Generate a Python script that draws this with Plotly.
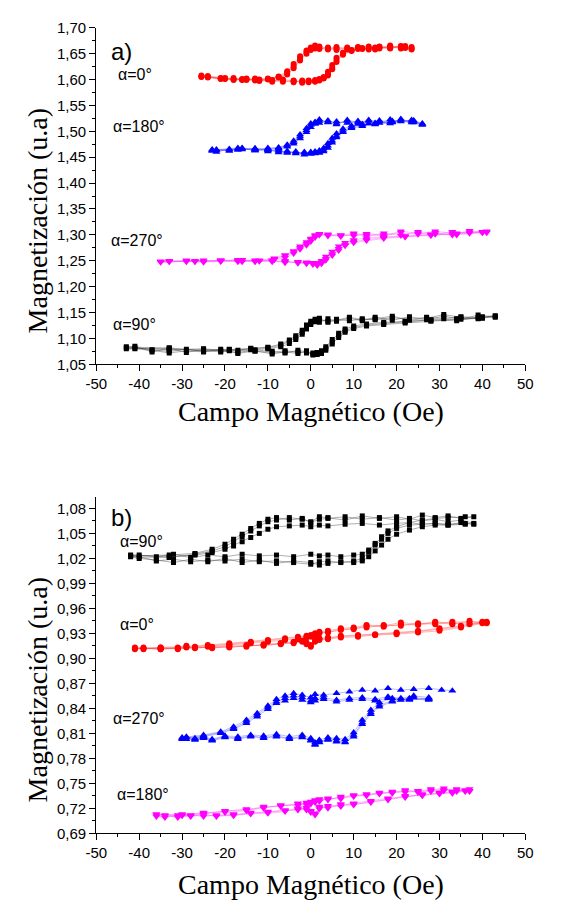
import plotly.graph_objects as go

# ---------------- panel a) ----------------
# alpha = 0 deg (red circles)
a0_Hd = [23.5, 21, 18.5, 16, 13.5, 11, 8.5, 6, 4, 2, 1, 0, -1, -2.5, -4, -5.5, -7.5, -10, -13, -16, -20, -25.5]
a0_Ha = [-24, -21, -18, -15, -12, -9, -6.5, -4, -2, -0.5, 1, 2, 3, 4, 5, 6, 7.5, 9.5, 12, 15, 18.5, 22]
a0_Md1 = [1.660,1.664,1.662,1.663,1.661,1.659,1.662,1.660,1.658,1.661,1.663,1.657,1.650,1.637,1.622,1.610,1.604,1.602,1.600,1.601,1.603,1.608]
a0_Ma1 = [1.607,1.602,1.600,1.601,1.599,1.598,1.600,1.597,1.596,1.598,1.597,1.600,1.605,1.615,1.628,1.642,1.652,1.657,1.660,1.662,1.661,1.663]
a0_Md2 = [1.663,1.660,1.666,1.660,1.664,1.662,1.658,1.663,1.660,1.664,1.660,1.660,1.653,1.641,1.626,1.613,1.605,1.600,1.602,1.599,1.601,1.606]
a0_Ma2 = [1.604,1.601,1.603,1.599,1.600,1.596,1.598,1.595,1.598,1.595,1.599,1.598,1.602,1.611,1.623,1.638,1.650,1.656,1.659,1.660,1.664,1.661]
a0_Md3 = [1.658,1.665,1.660,1.664,1.658,1.663,1.660,1.657,1.662,1.659,1.666,1.662,1.656,1.645,1.630,1.616,1.606,1.601,1.598,1.600,1.602,1.605]
a0_Ma3 = [1.605,1.603,1.599,1.602,1.597,1.599,1.596,1.598,1.594,1.597,1.596,1.601,1.603,1.608,1.620,1.634,1.648,1.655,1.661,1.658,1.662,1.665]

# alpha = 180 deg (blue up-triangles)
a180_Hd = [26, 23.5, 21, 18.5, 16, 13.5, 11, 8.5, 6, 4, 2, 1, 0, -1, -2.5, -4, -5.5, -7.5, -10, -13, -17, -23]
a180_Ha = [-22, -19, -16, -13, -10, -7.5, -5.5, -3.5, -1.5, 0, 1, 2, 3, 4, 5, 6, 7.5, 9.5, 12, 15, 19, 24]
a180_Md1 = [1.512,1.520,1.522,1.518,1.521,1.515,1.520,1.516,1.519,1.517,1.520,1.514,1.508,1.498,1.486,1.476,1.470,1.467,1.466,1.465,1.466,1.462]
a180_Ma1 = [1.460,1.466,1.465,1.467,1.464,1.462,1.460,1.459,1.458,1.460,1.461,1.463,1.468,1.477,1.487,1.496,1.505,1.511,1.514,1.516,1.518,1.521]
a180_Md2 = [1.515,1.517,1.524,1.515,1.519,1.522,1.514,1.520,1.515,1.521,1.516,1.518,1.512,1.502,1.490,1.479,1.472,1.468,1.464,1.467,1.464,1.465]
a180_Ma2 = [1.463,1.464,1.467,1.463,1.466,1.459,1.462,1.457,1.460,1.456,1.459,1.460,1.464,1.472,1.482,1.491,1.501,1.508,1.512,1.514,1.520,1.517]
a180_Md3 = [1.514,1.522,1.519,1.523,1.516,1.520,1.517,1.522,1.513,1.518,1.523,1.516,1.515,1.506,1.494,1.482,1.474,1.469,1.468,1.463,1.468,1.464]
a180_Ma3 = [1.465,1.462,1.468,1.465,1.461,1.464,1.458,1.461,1.455,1.458,1.457,1.458,1.461,1.468,1.478,1.488,1.498,1.506,1.510,1.513,1.517,1.520]

# alpha = 270 deg (magenta down-triangles)
a270_Hd = [41, 37, 33, 29, 25, 21, 17, 13, 10, 7, 4, 2, 1, 0, -1, -2.5, -4, -6, -8.5, -12, -16, -21, -27, -35]
a270_Ha = [-33, -29, -25, -21, -17, -13, -9, -6, -3, -1, 0.5, 1.5, 2.5, 3.5, 5, 6.5, 8, 10, 13, 17, 22, 28, 34, 40]
a270_Md1 = [1.306,1.305,1.303,1.307,1.301,1.304,1.300,1.302,1.298,1.300,1.301,1.300,1.295,1.287,1.280,1.272,1.264,1.256,1.252,1.250,1.251,1.249,1.250,1.247]
a270_Ma1 = [1.248,1.250,1.249,1.251,1.250,1.249,1.250,1.248,1.247,1.246,1.245,1.244,1.250,1.258,1.268,1.278,1.285,1.290,1.294,1.296,1.298,1.300,1.302,1.304]
a270_Md2 = [1.304,1.308,1.300,1.304,1.306,1.299,1.303,1.298,1.301,1.297,1.300,1.302,1.298,1.291,1.283,1.275,1.267,1.259,1.254,1.249,1.252,1.250,1.248,1.249]
a270_Ma2 = [1.250,1.248,1.251,1.249,1.248,1.251,1.248,1.250,1.245,1.247,1.243,1.246,1.247,1.254,1.263,1.273,1.281,1.287,1.291,1.295,1.297,1.299,1.303,1.306]
a270_Md3 = [1.307,1.303,1.306,1.301,1.303,1.307,1.298,1.300,1.303,1.299,1.298,1.301,1.300,1.293,1.286,1.278,1.269,1.261,1.255,1.251,1.248,1.251,1.249,1.248]
a270_Ma3 = [1.249,1.251,1.247,1.250,1.252,1.248,1.251,1.246,1.248,1.244,1.246,1.241,1.244,1.251,1.260,1.270,1.279,1.285,1.289,1.293,1.296,1.301,1.300,1.305]

# alpha = 90 deg (black squares)
a90_Hd = [43, 39, 35, 31, 27, 23, 19, 15, 12, 9, 6, 4, 2, 1, 0, -1, -2, -3.5, -5, -7, -10, -14, -19, -25, -33, -43]
a90_Ha = [-41, -37, -33, -29, -25, -21, -17, -13, -9, -6, -3, -1, 0.5, 1.5, 2.5, 3.5, 5, 6.5, 8, 10, 13, 17, 22, 28, 34, 40]
a90_Md1 = [1.143,1.140,1.142,1.138,1.141,1.137,1.140,1.136,1.138,1.134,1.137,1.133,1.136,1.132,1.127,1.118,1.108,1.098,1.090,1.084,1.080,1.078,1.079,1.077,1.080,1.084]
a90_Ma1 = [1.082,1.078,1.075,1.079,1.076,1.074,1.077,1.075,1.073,1.076,1.074,1.072,1.070,1.073,1.076,1.084,1.098,1.110,1.118,1.124,1.128,1.131,1.133,1.135,1.138,1.140]
a90_Md2 = [1.141,1.145,1.137,1.143,1.136,1.142,1.135,1.141,1.134,1.139,1.133,1.138,1.131,1.137,1.130,1.122,1.112,1.102,1.094,1.087,1.082,1.080,1.076,1.080,1.078,1.082]
a90_Ma2 = [1.085,1.074,1.081,1.073,1.079,1.076,1.073,1.078,1.075,1.072,1.077,1.074,1.072,1.069,1.074,1.080,1.093,1.106,1.115,1.121,1.126,1.129,1.132,1.136,1.134,1.142]
a90_Md3 = [1.144,1.138,1.141,1.146,1.139,1.135,1.143,1.138,1.136,1.141,1.135,1.131,1.139,1.134,1.133,1.126,1.116,1.105,1.097,1.089,1.083,1.081,1.078,1.075,1.082,1.080]
a90_Ma3 = [1.080,1.077,1.072,1.076,1.074,1.079,1.071,1.076,1.070,1.074,1.071,1.076,1.068,1.072,1.071,1.077,1.089,1.102,1.112,1.119,1.124,1.127,1.130,1.133,1.137,1.139]

# ---------------- panel b) ----------------
# alpha = 90 deg (black squares)
b90_Hd = [38, 35, 32, 29, 26, 23, 20, 16, 12, 8, 4, 2, 0, -2, -5, -8, -10, -12, -14, -16, -18, -20, -23, -27, -33, -42]
b90_Ha = [-40, -36, -32, -28, -24, -20, -16, -12, -8, -4, 0, 2, 4, 7, 10, 12, 13.5, 15, 16.5, 18, 20, 23, 26, 29, 32, 36]
b90_Md1 = [1.062,1.066,1.064,1.067,1.065,1.068,1.066,1.069,1.067,1.070,1.068,1.067,1.063,1.068,1.066,1.069,1.067,1.062,1.056,1.049,1.043,1.037,1.031,1.026,1.024,1.023]
b90_Ma1 = [1.022,1.017,1.019,1.016,1.018,1.017,1.019,1.016,1.017,1.015,1.013,1.016,1.017,1.015,1.017,1.020,1.028,1.036,1.043,1.050,1.056,1.060,1.061,1.062,1.061,1.062]
b90_Md2 = [1.061,1.063,1.060,1.062,1.061,1.063,1.062,1.060,1.062,1.061,1.059,1.060,1.058,1.060,1.059,1.058,1.055,1.050,1.045,1.040,1.035,1.031,1.027,1.024,1.022,1.024]
b90_Ma2 = [1.024,1.022,1.025,1.021,1.024,1.022,1.025,1.023,1.024,1.022,1.025,1.023,1.024,1.022,1.024,1.025,1.030,1.038,1.046,1.053,1.058,1.063,1.066,1.068,1.069,1.070]
b90_Md3 = [1.070,1.068,1.071,1.069,1.072,1.067,1.070,1.068,1.071,1.066,1.069,1.070,1.064,1.067,1.069,1.066,1.064,1.059,1.053,1.046,1.040,1.034,1.029,1.025,1.021,1.022]
b90_Ma3 = [1.020,1.018,1.015,1.019,1.016,1.020,1.015,1.018,1.014,1.017,1.015,1.012,1.014,1.016,1.015,1.017,1.022,1.029,1.036,1.043,1.049,1.054,1.058,1.060,1.060,1.061]

# alpha = 0 deg (red circles)
b0_Hd = [41, 37, 33, 29, 25, 21, 17, 13, 10, 7, 4, 2, 1, 0, -1, -3, -6, -10, -14, -19, -24, -29, -35, -41]
b0_Ha = [-39, -35, -31, -27, -23, -19, -15, -11, -7, -4, -2, -1, 0, 1, 2, 4, 7, 11, 15, 20, 25, 30, 35, 40]
b0_Md1 = [0.944,0.943,0.944,0.941,0.942,0.939,0.940,0.937,0.936,0.934,0.932,0.930,0.929,0.927,0.926,0.925,0.923,0.921,0.919,0.917,0.915,0.914,0.912,0.912]
b0_Ma1 = [0.912,0.911,0.913,0.912,0.914,0.913,0.915,0.916,0.917,0.919,0.920,0.918,0.916,0.921,0.924,0.925,0.926,0.927,0.928,0.930,0.932,0.935,0.938,0.943]
b0_Md2 = [0.942,0.945,0.941,0.943,0.940,0.941,0.938,0.939,0.935,0.935,0.931,0.931,0.927,0.926,0.925,0.923,0.922,0.920,0.918,0.916,0.914,0.913,0.911,0.913]
b0_Ma2 = [0.911,0.913,0.911,0.914,0.912,0.915,0.914,0.917,0.918,0.920,0.921,0.917,0.914,0.920,0.922,0.923,0.925,0.926,0.928,0.929,0.931,0.933,0.937,0.942]
b0_Md3 = [0.943,0.941,0.942,0.944,0.941,0.943,0.939,0.940,0.937,0.936,0.933,0.932,0.930,0.928,0.927,0.926,0.924,0.922,0.920,0.918,0.916,0.915,0.913,0.911]
b0_Ma3 = [0.913,0.912,0.912,0.913,0.913,0.914,0.916,0.915,0.918,0.918,0.921,0.919,0.915,0.922,0.923,0.924,0.927,0.928,0.929,0.931,0.933,0.936,0.939,0.944]

# alpha = 270 deg (blue up-triangles)
b270_Hd = [33, 30.5, 27.5, 24, 21, 18, 15, 12, 9, 6, 3, 1, 0, -2, -4, -6, -8, -10, -12.5, -15, -18, -21, -25, -30]
b270_Ha = [-29, -27, -25, -23, -20, -17, -14, -11, -8, -5, -2, 0, 1, 2, 4, 6, 8, 10, 12, 14, 16, 19, 23, 27.5]
b270_Md1 = [0.861,0.862,0.864,0.863,0.862,0.864,0.861,0.862,0.860,0.858,0.856,0.857,0.853,0.856,0.858,0.855,0.851,0.843,0.834,0.826,0.818,0.812,0.808,0.805]
b270_Ma1 = [0.805,0.804,0.806,0.803,0.807,0.806,0.808,0.807,0.809,0.806,0.808,0.804,0.799,0.802,0.805,0.804,0.803,0.811,0.826,0.838,0.847,0.852,0.851,0.850]
b270_Md2 = [None,None,0.851,0.853,0.850,0.852,0.849,0.851,0.850,0.848,0.851,0.849,0.847,0.850,0.852,0.849,0.846,0.839,0.830,0.822,0.815,0.810,0.806,0.803]
b270_Ma2 = [0.803,0.802,0.804,0.801,0.805,0.803,0.806,0.804,0.806,0.803,0.805,0.801,0.796,0.799,0.802,0.800,0.799,0.806,0.821,0.833,0.842,0.848,0.850,0.852]
b270_Md3 = [None,None,0.853,0.855,0.852,0.854,0.851,0.853,0.852,0.850,0.853,0.852,0.849,0.853,0.855,0.852,0.848,0.841,0.832,0.824,0.816,0.811,0.807,0.804]
b270_Ma3 = [0.806,0.803,0.805,0.802,0.806,0.804,0.807,0.805,0.807,0.804,0.806,0.802,0.797,0.800,0.803,0.801,0.800,0.808,0.823,0.835,0.844,0.849,0.852,0.851]

# alpha = 180 deg (magenta down-triangles)
b180_Hd = [37, 34, 31, 28, 25, 22, 19, 16, 13, 10, 7, 4, 2, 1, 0, -1, -3, -7, -11, -15, -20, -25, -30, -36]
b180_Ha = [-34, -31, -28, -25, -22, -18, -14, -10, -6, -3, -1, 0, 1, 2, 4, 7, 10, 14, 18, 22, 26, 30, 33, 36]
b180_Md1 = [0.741,0.743,0.742,0.740,0.741,0.739,0.740,0.737,0.736,0.734,0.733,0.731,0.730,0.729,0.727,0.726,0.725,0.723,0.721,0.719,0.716,0.714,0.713,0.712]
b180_Ma1 = [0.711,0.710,0.711,0.712,0.711,0.713,0.714,0.716,0.717,0.719,0.720,0.716,0.714,0.721,0.722,0.724,0.726,0.729,0.732,0.734,0.736,0.737,0.739,0.740]
b180_Md2 = [0.743,0.740,0.744,0.742,0.739,0.741,0.738,0.739,0.735,0.736,0.731,0.732,0.728,0.730,0.725,0.727,0.723,0.724,0.720,0.718,0.717,0.713,0.712,0.710]
b180_Ma2 = [0.709,0.712,0.710,0.713,0.710,0.712,0.713,0.715,0.718,0.718,0.721,0.715,0.713,0.719,0.723,0.722,0.725,0.727,0.731,0.733,0.737,0.738,0.740,0.742]
b180_Md3 = [0.740,0.742,0.741,0.743,0.740,0.742,0.739,0.738,0.737,0.735,0.734,0.730,0.731,0.727,0.728,0.724,0.726,0.722,0.722,0.717,0.715,0.715,0.711,0.713]
b180_Ma3 = [0.712,0.709,0.712,0.710,0.712,0.711,0.715,0.714,0.716,0.720,0.718,0.717,0.712,0.722,0.720,0.725,0.724,0.728,0.730,0.735,0.735,0.739,0.738,0.741]

x_ticks = [-50, -40, -30, -20, -10, 0, 10, 20, 30, 40, 50]
x_title = "Campo Magnético (Oe)"
y_title = "Magnetización (u.a)"


def loop(Hd, Ha, cycles):
    xs, ys = [], []
    for Md, Ma in cycles:
        assert len(Md) == len(Hd) and len(Ma) == len(Ha)
        xs += list(Hd) + list(Ha)
        ys += list(Md) + list(Ma)
    return xs, ys


RED, BLUE, MAG, BLK = "#ff0000", "#0000ff", "#ff00ff", "#000000"
series = [
    (a0_Hd, a0_Ha, [(a0_Md1, a0_Ma1), (a0_Md2, a0_Ma2), (a0_Md3, a0_Ma3)], RED, "rgba(255,60,60,0.55)", "circle", 6, 1),
    (a180_Hd, a180_Ha, [(a180_Md1, a180_Ma1), (a180_Md2, a180_Ma2), (a180_Md3, a180_Ma3)], BLUE, "rgba(70,70,255,0.55)", "triangle-up", 7, 1),
    (a270_Hd, a270_Ha, [(a270_Md1, a270_Ma1), (a270_Md2, a270_Ma2), (a270_Md3, a270_Ma3)], MAG, "rgba(255,70,255,0.55)", "triangle-down", 7, 1),
    (a90_Hd, a90_Ha, [(a90_Md1, a90_Ma1), (a90_Md2, a90_Ma2), (a90_Md3, a90_Ma3)], BLK, "rgba(60,60,60,0.6)", "square", 5, 1),
    (b90_Hd, b90_Ha, [(b90_Md1, b90_Ma1), (b90_Md2, b90_Ma2), (b90_Md3, b90_Ma3)], BLK, "rgba(60,60,60,0.6)", "square", 5, 2),
    (b0_Hd, b0_Ha, [(b0_Md1, b0_Ma1), (b0_Md2, b0_Ma2), (b0_Md3, b0_Ma3)], RED, "rgba(255,60,60,0.55)", "circle", 6, 2),
    (b270_Hd, b270_Ha, [(b270_Md1, b270_Ma1), (b270_Md2, b270_Ma2), (b270_Md3, b270_Ma3)], BLUE, "rgba(70,70,255,0.55)", "triangle-up", 7, 2),
    (b180_Hd, b180_Ha, [(b180_Md1, b180_Ma1), (b180_Md2, b180_Ma2), (b180_Md3, b180_Ma3)], MAG, "rgba(255,70,255,0.55)", "triangle-down", 7, 2),
]

fig = go.Figure()
for Hd, Ha, cyc, mc, lc, sym, sz, panel in series:
    xs, ys = loop(Hd, Ha, cyc)
    fig.add_trace(go.Scatter(
        x=xs, y=ys, mode="lines+markers", connectgaps=True,
        line=dict(color=lc, width=0.7),
        marker=dict(color=mc, symbol=sym, size=sz, line=dict(width=0)),
        xaxis="x" if panel == 1 else "x2", yaxis="y" if panel == 1 else "y2",
        showlegend=False, hoverinfo="skip"))

# the page body has an 8px default margin: the figure is 8px smaller and page
# coordinates are converted by subtracting that offset
OFF = 8
W, H = 570 - OFF, 907 - OFF


def px(x):
    return (x - OFF) / W


def py(y):
    return 1 - (y - OFF) / H


FL, FR = 88, 532
XD = [px(FL), px(FR)]
YD1 = [py(362), py(19)]
YD2 = [py(840), py(497)]
TF = dict(family="Liberation Sans, Arial, sans-serif", size=15, color="black")

base_x = dict(domain=XD, range=[-50, 50], tickmode="array", tickvals=x_ticks,
              ticktext=[str(v) for v in x_ticks], ticks="outside", ticklen=6,
              tickwidth=1, tickcolor="black", minor=dict(ticks="outside", ticklen=3, dtick=5, tickcolor="black"),
              showline=True, linecolor="black", linewidth=1.3, showgrid=False, zeroline=False,
              tickfont=TF, fixedrange=True)


def yax(dom, rng, dt):
    return dict(domain=dom, range=rng, dtick=dt, tick0=0, tickformat=".2f", ticks="outside",
                ticklen=6, tickwidth=1, tickcolor="black",
                minor=dict(ticks="outside", ticklen=3, dtick=dt / 2, tickcolor="black"),
                showline=True, linecolor="black", linewidth=1.3, showgrid=False, zeroline=False,
                tickfont=TF, fixedrange=True)


def mirror_x(anchor, over):
    d = dict(base_x)
    d.update(overlaying=over, side="top", anchor=anchor, ticks="inside", showticklabels=False,
             minor=dict(ticks="inside", ticklen=3, dtick=5, tickcolor="black"))
    return d


def mirror_y(dom, rng, dt, anchor, over):
    d = yax(dom, rng, dt)
    d.update(overlaying=over, side="right", anchor=anchor, ticks="inside", showticklabels=False,
             minor=dict(ticks="inside", ticklen=3, dtick=dt / 2, tickcolor="black"))
    return d


ax1 = dict(base_x); ax1.update(anchor="y")
ax2 = dict(base_x); ax2.update(anchor="y2")

fig.update_layout(
    width=W, height=H, margin=dict(l=0, r=0, t=0, b=0),
    paper_bgcolor="white", plot_bgcolor="white", separators=",.",
    xaxis=ax1, yaxis=yax(YD1, [1.05, 1.70], 0.05) | dict(anchor="x"),
    xaxis2=ax2, yaxis2=yax(YD2, [0.69, 1.094], 0.03) | dict(anchor="x2"),
    xaxis3=mirror_x("y", "x"), yaxis3=mirror_y(YD1, [1.05, 1.70], 0.05, "x", "y"),
    xaxis4=mirror_x("y2", "x2"), yaxis4=mirror_y(YD2, [0.69, 1.094], 0.03, "x2", "y2"),
)

SERIF = dict(family="Liberation Serif, Times New Roman, serif", size=28, color="black")
LBL = dict(family="Liberation Sans, Arial, sans-serif", size=16, color="black")
PAN = dict(family="Liberation Sans, Arial, sans-serif", size=24, color="black")

XC = (FL + FR) / 2
ann = []
for yc in (216, 694):
    ann.append(dict(text=y_title, x=px(27), y=py(yc), textangle=-90, font=SERIF))
for yc in (410, 892):
    ann.append(dict(text=x_title, x=px(XC), y=py(yc), font=SERIF))
labels = [
    ("a)", 101, 43, PAN), ("α=0°", 108, 67, LBL), ("α=180°", 103, 120, LBL),
    ("α=270°", 101, 236, LBL), ("α=90°", 103, 321, LBL),
    ("b)", 101, 518, PAN), ("α=90°", 110, 543, LBL), ("α=0°", 110, 627, LBL),
    ("α=270°", 103, 723, LBL), ("α=180°", 107, 800, LBL),
]
for t, lx, ly, f in labels:
    ann.append(dict(text=t, x=px(lx), y=py(ly), xanchor="left", font=f))
for a in ann:
    a.update(xref="paper", yref="paper", showarrow=False, yanchor="middle")
    a.setdefault("xanchor", "center")
fig.update_layout(annotations=ann)

fig.write_html("out.html")
